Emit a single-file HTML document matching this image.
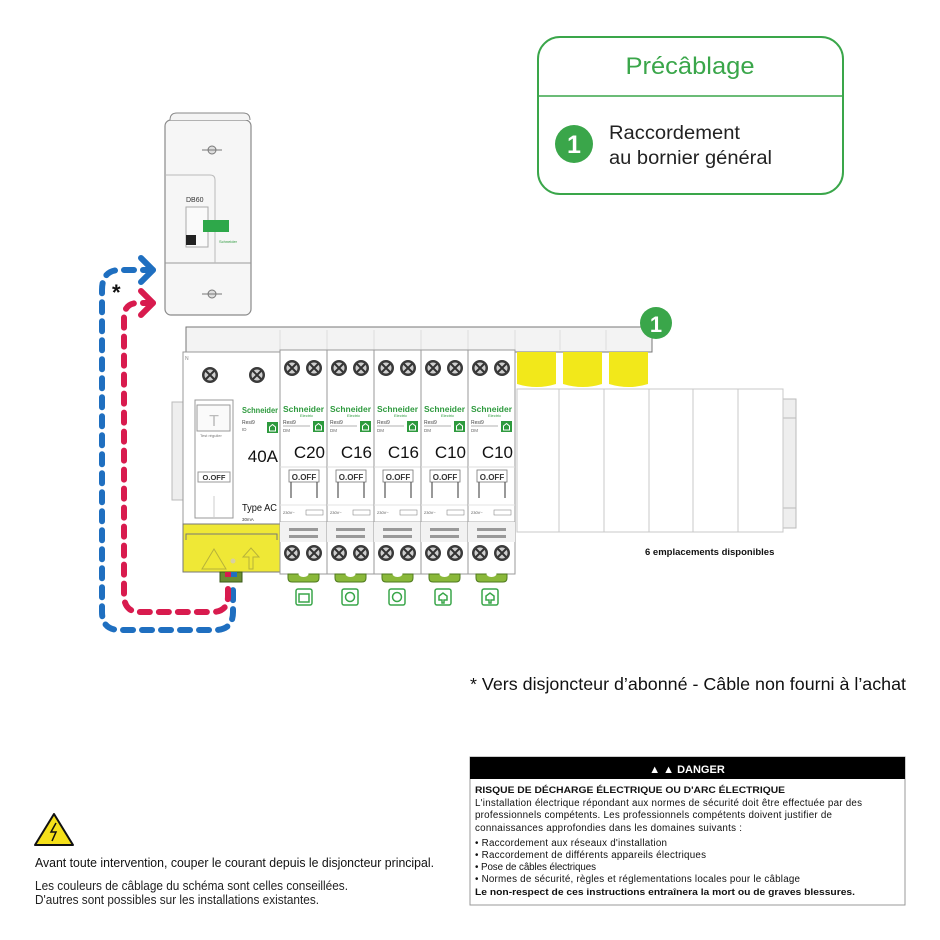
<!DOCTYPE html>
<html><head><meta charset="utf-8"><style>
html,body{margin:0;padding:0;background:#fff;}
svg{display:block;font-family:"Liberation Sans",sans-serif;}
</style></head><body>
<svg width="940" height="940" viewBox="0 0 940 940" xmlns="http://www.w3.org/2000/svg">
<defs>
<g id="screw"><circle r="8" fill="#3a3a3a"/><circle r="5.5" fill="#cfcfcf"/><path d="M-4,-4L4,4M-4,4L4,-4" stroke="#333" stroke-width="2"/></g>
<g id="brk">
 <rect x="0" y="0" width="47" height="224" fill="#fff" stroke="#9a9a9a"/>
 <use href="#screw" x="12" y="18"/><use href="#screw" x="34" y="18"/>
 <text x="3" y="62" font-size="8" font-weight="bold" fill="#2e9a3e" textLength="41" lengthAdjust="spacingAndGlyphs">Schneider</text>
 <text x="20" y="67" font-size="4" fill="#2e9a3e">Electric</text>
 <text x="3" y="74" font-size="5" fill="#444">Resi9</text>
 <line x1="3" y1="76" x2="30" y2="76" stroke="#666" stroke-width="0.6"/>
 <text x="3" y="82" font-size="4.5" fill="#666">DM</text>
 <rect x="33" y="71" width="11" height="11" fill="#2e9a3e"/>
 <path d="M35.5,80V76L38.5,73.5L41.5,76V80Z" fill="none" stroke="#fff" stroke-width="1"/>
 <line x1="0" y1="117" x2="47" y2="117" stroke="#ddd"/>
 <rect x="9" y="120" width="30" height="12" fill="#fff" stroke="#777" stroke-width="0.8"/>
 <text x="24" y="130" font-size="8" font-weight="bold" text-anchor="middle" fill="#333">O.OFF</text>
 <line x1="11" y1="132" x2="11" y2="148" stroke="#555" stroke-width="1.2"/>
 <line x1="37" y1="132" x2="37" y2="148" stroke="#555" stroke-width="1.2"/>
 <line x1="0" y1="155" x2="47" y2="155" stroke="#e3e3e3"/>
 <text x="3" y="164" font-size="4" fill="#555">230V~</text>
 <rect x="26" y="160" width="17" height="5" fill="none" stroke="#777" stroke-width="0.5"/>
 <line x1="0" y1="172" x2="47" y2="172" stroke="#aaa"/>
 <rect x="0" y="172" width="47" height="20" fill="#f2f2f2"/>
 <rect x="9" y="178" width="29" height="3" fill="#999"/>
 <rect x="9" y="185" width="29" height="3" fill="#999"/>
 <use href="#screw" x="12" y="203"/><use href="#screw" x="34" y="203"/>
 <path d="M8,224h31v4q0,4 -4,4h-23q-4,0 -4,-4z" fill="#8ab83a" stroke="#4f7a1e"/>
 <ellipse cx="23.5" cy="224" rx="5" ry="3" fill="#fff"/>
</g>
</defs>

<!-- Précâblage box -->
<rect x="538" y="37" width="305" height="157" rx="22" fill="#fff" stroke="#3aa64a" stroke-width="2"/>
<line x1="538" y1="96" x2="843" y2="96" stroke="#3aa64a" stroke-width="1.5"/>
<text x="690" y="74" font-size="24" fill="#3aa64a" text-anchor="middle" textLength="129" lengthAdjust="spacingAndGlyphs">Précâblage</text>
<circle cx="574" cy="144" r="19" fill="#3aa64a"/>
<text x="574" y="153" font-size="25" font-weight="bold" fill="#fff" text-anchor="middle">1</text>
<text x="609" y="139" font-size="19" fill="#222" textLength="131" lengthAdjust="spacingAndGlyphs">Raccordement</text>
<text x="609" y="164" font-size="19" fill="#222" textLength="163" lengthAdjust="spacingAndGlyphs">au bornier général</text>

<!-- DB60 -->
<rect x="165" y="120" width="86" height="195" rx="6" fill="#f6f6f6" stroke="#8a8a8a" stroke-width="1.2"/>
<path d="M170,120q0,-7 7,-7h66q7,0 7,7" fill="#f4f4f4" stroke="#888"/>
<line x1="165" y1="263" x2="251" y2="263" stroke="#999"/>
<path d="M166,175h44q5,0 5,5v83" fill="none" stroke="#bbb"/>
<circle cx="212" cy="150" r="4" fill="#ddd" stroke="#777"/><line x1="202" y1="150" x2="222" y2="150" stroke="#777"/>
<circle cx="212" cy="294" r="4" fill="#ddd" stroke="#777"/><line x1="202" y1="294" x2="222" y2="294" stroke="#777"/>
<text x="186" y="202" font-size="7" fill="#333">DB60</text>
<rect x="186" y="207" width="22" height="40" fill="#fafafa" stroke="#aaa"/>
<rect x="186" y="235" width="10" height="10" fill="#222"/>
<rect x="203" y="220" width="26" height="12" fill="#2ea84a"/>
<text x="219" y="243" font-size="4" fill="#2e9a3e">Schneider</text>

<!-- wires -->
<g fill="none" stroke-width="6" stroke-linecap="round" stroke-dasharray="10 9">
<path d="M153,270H120Q102,270 102,290V612Q102,630 120,630H215Q233,630 233,612V590" stroke="#1f6fc0"/>
<path d="M153,303H138Q124,303 124,318V595Q124,612 140,612H212Q228,612 228,596V588" stroke="#d81b4e"/>
</g>
<path d="M141,258L153,270L141,282" fill="none" stroke="#1f6fc0" stroke-width="6" stroke-linecap="round" stroke-linejoin="round"/>
<path d="M141,291L153,303L141,315" fill="none" stroke="#d81b4e" stroke-width="6" stroke-linecap="round" stroke-linejoin="round"/>
<text x="112" y="300" font-size="22" font-weight="bold" fill="#111">*</text>

<!-- rails -->
<rect x="172" y="402" width="13" height="98" fill="#eee" stroke="#bbb"/>
<rect x="783" y="399" width="13" height="129" fill="#eee" stroke="#bbb"/>
<line x1="783" y1="418" x2="796" y2="418" stroke="#bbb"/><line x1="783" y1="508" x2="796" y2="508" stroke="#bbb"/>

<!-- empty slots -->
<rect x="517" y="389" width="266" height="143" fill="#fff" stroke="#c8c8c8"/>
<g stroke="#c8c8c8"><line x1="559" y1="389" x2="559" y2="532"/><line x1="604" y1="389" x2="604" y2="532"/><line x1="649" y1="389" x2="649" y2="532"/><line x1="693" y1="389" x2="693" y2="532"/><line x1="738" y1="389" x2="738" y2="532"/></g>

<!-- comb bar -->
<rect x="186" y="327" width="466" height="25" fill="#f3f3f3" stroke="#777"/>
<g stroke="#ddd"><line x1="280" y1="330" x2="280" y2="350"/><line x1="327" y1="330" x2="327" y2="350"/><line x1="374" y1="330" x2="374" y2="350"/><line x1="421" y1="330" x2="421" y2="350"/><line x1="468" y1="330" x2="468" y2="350"/><line x1="515" y1="330" x2="515" y2="350"/><line x1="560" y1="330" x2="560" y2="350"/><line x1="606" y1="330" x2="606" y2="350"/></g>
<g fill="#f2e81a"><path d="M517,352h39v32q-19,6 -39,0z"/><path d="M563,352h39v32q-19,6 -39,0z"/><path d="M609,352h39v32q-19,6 -39,0z"/></g>
<circle cx="656" cy="323" r="16" fill="#3aa64a"/>
<text x="656" y="332" font-size="22" font-weight="bold" fill="#fff" text-anchor="middle">1</text>

<!-- ID module -->
<rect x="183" y="352" width="97" height="172" fill="#fff" stroke="#9a9a9a"/>
<use href="#screw" x="210" y="375"/><use href="#screw" x="257" y="375"/>
<text x="185" y="360" font-size="5" fill="#888">N</text>
<rect x="195" y="400" width="38" height="118" fill="#fff" stroke="#999"/>
<rect x="197" y="405" width="33" height="26" fill="#fafafa" stroke="#999"/>
<text x="214" y="426" font-size="16" fill="#bbb" text-anchor="middle">T</text>
<text x="200" y="437" font-size="4" fill="#777">Test régulier</text>
<rect x="198" y="472" width="32" height="10" fill="#fff" stroke="#999"/>
<text x="214" y="480" font-size="7.5" font-weight="bold" fill="#333" text-anchor="middle">O.OFF</text>
<line x1="214" y1="496" x2="214" y2="518" stroke="#ccc"/>
<text x="242" y="413" font-size="8" font-weight="bold" fill="#2e9a3e" textLength="36" lengthAdjust="spacingAndGlyphs">Schneider</text>
<text x="242" y="424" font-size="5" fill="#444">Resi9</text>
<text x="242" y="431" font-size="4.5" fill="#666">ID</text>
<rect x="267" y="422" width="11" height="11" fill="#2e9a3e"/>
<path d="M269.5,431V427L272.5,424.5L275.5,427V431Z" fill="none" stroke="#fff" stroke-width="1"/>
<text x="278" y="462" font-size="17" fill="#111" text-anchor="end">40A</text>
<text x="242" y="511" font-size="10" fill="#111" textLength="35" lengthAdjust="spacingAndGlyphs">Type AC</text>
<text x="242" y="521" font-size="4.5" fill="#333">30mA</text>
<rect x="183" y="524" width="97" height="48" fill="#efe836" stroke="#777"/>
<path d="M186,540v-6h91v6" fill="none" stroke="#777"/>
<path d="M214,549l12,20h-24z" fill="none" stroke="#b7b23a"/>
<path d="M249,569v-12h-6l8,-9l8,9h-6v12z" fill="none" stroke="#b7b23a"/>
<circle cx="233" cy="561" r="2.5" fill="#d8d0a0"/>
<rect x="220" y="572" width="22" height="10" fill="#6a8d32" stroke="#3a5a1a"/>
<rect x="225" y="572" width="6" height="5" fill="#d81b4e"/><rect x="231" y="572" width="6" height="5" fill="#1f6fc0"/>

<!-- breakers -->
<use href="#brk" x="280" y="350"/>
<use href="#brk" x="327" y="350"/>
<use href="#brk" x="374" y="350"/>
<use href="#brk" x="421" y="350"/>
<use href="#brk" x="468" y="350"/>
<g font-size="17" fill="#111" text-anchor="end">
<text x="325" y="458">C20</text><text x="372" y="458">C16</text><text x="419" y="458">C16</text><text x="466" y="458">C10</text><text x="513" y="458">C10</text>
</g>
<g fill="none" stroke="#3aa64a" stroke-width="1.5">
<rect x="296" y="589" width="16" height="16" rx="2"/><rect x="342" y="589" width="16" height="16" rx="2"/><rect x="389" y="589" width="16" height="16" rx="2"/><rect x="435" y="589" width="16" height="16" rx="2"/><rect x="482" y="589" width="16" height="16" rx="2"/>
<rect x="299" y="594" width="10" height="8"/>
<circle cx="350" cy="597" r="4.5"/><circle cx="397" cy="597" r="4.5"/>
<path d="M439,600v-4l4,-3l4,3v4h-3v3h-2v-3z"/><path d="M486,600v-4l4,-3l4,3v4h-3v3h-2v-3z"/>
</g>

<text x="645" y="555" font-size="9.5" font-weight="bold" fill="#111">6 emplacements disponibles</text>

<text x="470" y="690" font-size="17.5" fill="#111" textLength="436" lengthAdjust="spacingAndGlyphs">* Vers disjoncteur d’abonné - Câble non fourni à l’achat</text>

<path d="M54,814l-19,31h38z" fill="#f5e01a" stroke="#111" stroke-width="2" stroke-linejoin="round"/>
<path d="M56,823l-5,9h5l-4,9" fill="none" stroke="#111" stroke-width="1.5"/>
<text x="35" y="867" font-size="12.5" fill="#111" textLength="399" lengthAdjust="spacingAndGlyphs">Avant toute intervention, couper le courant depuis le disjoncteur principal.</text>
<text x="35" y="890" font-size="12.5" fill="#222" textLength="313" lengthAdjust="spacingAndGlyphs">Les couleurs de câblage du schéma sont celles conseillées.</text>
<text x="35" y="904" font-size="12.5" fill="#222" textLength="284" lengthAdjust="spacingAndGlyphs">D'autres sont possibles sur les installations existantes.</text>

<rect x="470" y="757" width="435" height="148" fill="#fff" stroke="#999"/>
<rect x="470" y="757" width="435" height="22" fill="#000"/>
<text x="687" y="773" font-size="11" font-weight="bold" fill="#fff" text-anchor="middle">▲ ▲ DANGER</text>
<text x="475" y="793" font-size="9.5" font-weight="bold" fill="#111" textLength="310" lengthAdjust="spacingAndGlyphs">RISQUE DE DÉCHARGE ÉLECTRIQUE OU D'ARC ÉLECTRIQUE</text>
<g font-size="9.8" fill="#111" lengthAdjust="spacingAndGlyphs">
<text x="475" y="806" textLength="387">L'installation électrique répondant aux normes de sécurité doit être effectuée par des</text>
<text x="475" y="818" textLength="357">professionnels compétents. Les professionnels compétents doivent justifier de</text>
<text x="475" y="831" textLength="267">connaissances approfondies dans les domaines suivants :</text>
<text x="475" y="846" textLength="192">• Raccordement aux réseaux d'installation</text>
<text x="475" y="858" textLength="231">• Raccordement de différents appareils électriques</text>
<text x="475" y="870" textLength="121">• Pose de câbles électriques</text>
<text x="475" y="882" textLength="325">• Normes de sécurité, règles et réglementations locales pour le câblage</text>
</g>
<text x="475" y="895" font-size="9.5" font-weight="bold" fill="#111" textLength="380" lengthAdjust="spacingAndGlyphs">Le non-respect de ces instructions entraînera la mort ou de graves blessures.</text>
</svg>
</body></html>
